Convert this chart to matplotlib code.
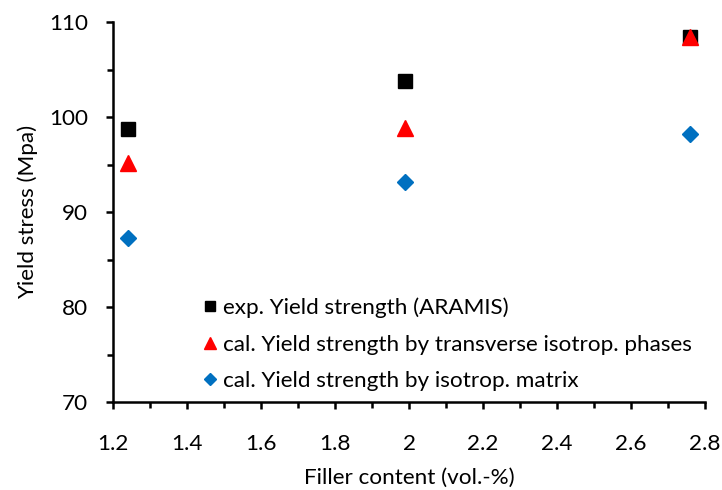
import matplotlib.pyplot as plt
from matplotlib.ticker import MultipleLocator

plt.rcParams['font.family'] = ['Lato', 'DejaVu Sans']

# Filler content (vol.-%) and yield stress values (MPa)
filler = [1.24, 1.99, 2.76]
exp_aramis = [98.7, 103.8, 108.4]
cal_transverse = [95.2, 98.8, 108.4]
cal_isotropic = [87.3, 93.2, 98.2]

fs = 16.2

fig = plt.figure(figsize=(7.22, 4.9), dpi=100)
ax = fig.add_axes([113 / 722, 1 - 402 / 490, 592 / 722, 380 / 490])

ax.plot(filler, exp_aramis, 's', color='black', markersize=10.5,
        label='exp. Yield strength (ARAMIS)')
ax.plot(filler, cal_transverse, '^', color='#FF0000', markersize=11,
        label='cal. Yield strength by transverse isotrop. phases')
ax.plot(filler, cal_isotropic, 'D', color='#0070C0', markersize=8,
        label='cal. Yield strength by isotrop. matrix')

ax.set_xlim(1.2, 2.8)
ax.set_ylim(70, 110)
ax.xaxis.set_major_locator(MultipleLocator(0.2))
ax.xaxis.set_minor_locator(MultipleLocator(0.1))
ax.yaxis.set_major_locator(MultipleLocator(10))
ax.yaxis.set_minor_locator(MultipleLocator(5))
ax.xaxis.set_major_formatter(plt.FuncFormatter(lambda v, p: f'{v:g}'))

for s in ['top', 'right']:
    ax.spines[s].set_visible(False)
for s in ['left', 'bottom']:
    ax.spines[s].set_linewidth(1.8)
ax.tick_params(which='both', direction='out', width=1.8, labelsize=fs)
ax.tick_params(which='major', length=5)
ax.tick_params(which='minor', length=4)
ax.tick_params(axis='x', pad=18)
ax.tick_params(axis='y', pad=13)

ax.set_xlabel('Filler content (vol.-%)', fontsize=fs, labelpad=10)
ax.set_ylabel('Yield stress (Mpa)', fontsize=fs, labelpad=8)

ax.legend(loc='lower left', bbox_to_anchor=(0.13, 0.006), frameon=False,
          fontsize=fs, handletextpad=0.05, handlelength=1.0,
          labelspacing=0.72, borderaxespad=0, markerscale=0.75)

fig.savefig('out.png', dpi=100)
